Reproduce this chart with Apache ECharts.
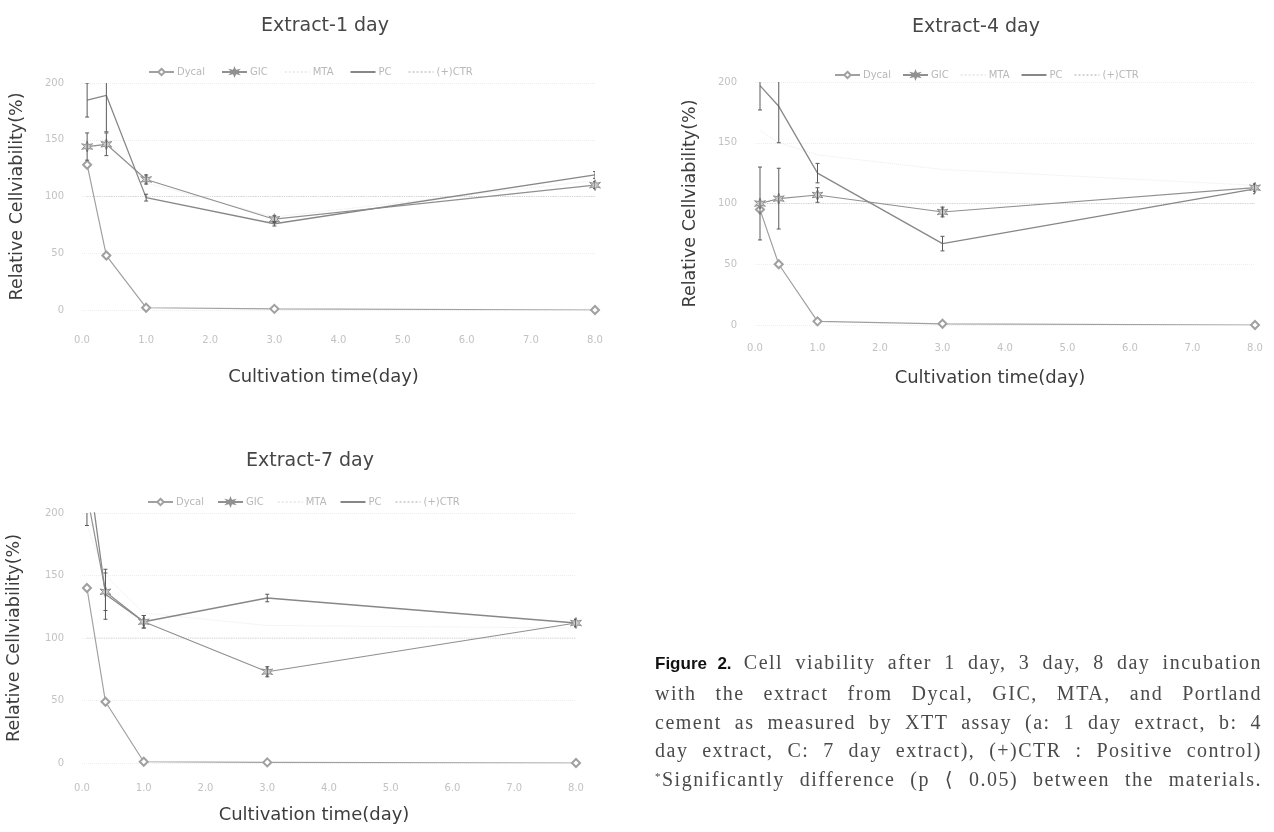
<!DOCTYPE html>
<html>
<head>
<meta charset="utf-8">
<script src="https://cdn.jsdelivr.net/npm/echarts/dist/echarts.min.js"></script>
<style>
  html, body { margin: 0; padding: 0; background: #ffffff; }
  #chart { position: absolute; left: 0; top: 0; width: 1274px; height: 832px; }
  #caption {
    position: absolute; left: 655px; top: 648px; width: 607px;
    font-family: "Liberation Serif", "DejaVu Serif", serif; font-size: 20px;
    letter-spacing: 1.5px; line-height: 28.8px; color: #4a4a4a;
  }
  #caption div { text-align: justify; text-align-last: justify; white-space: nowrap; }
  #caption b { font-family: "Liberation Sans", Arial, sans-serif; font-weight: bold; color: #111; font-size: 17px; letter-spacing: 0; }
  #caption sup { font-size: 11px; vertical-align: 6px; line-height: 0; }
</style>
</head>
<body>
<div id="chart"></div>
<div id="caption">
  <div><b>Figure 2.</b> Cell viability after 1 day, 3 day, 8 day incubation</div>
  <div>with the extract from Dycal, GIC, MTA, and Portland</div>
  <div>cement as measured by XTT assay (a: 1 day extract, b: 4</div>
  <div>day extract, C: 7 day extract), (+)CTR : Positive control)</div>
  <div><sup>*</sup>Significantly difference (p ⟨ 0.05) between the materials.</div>
</div>
<script>
// ---------------- DATA ----------------
const seriesNames = ['Dycal', 'GIC', 'MTA', 'PC', '(+)CTR'];
const panelTitles = ['Extract-1 day', 'Extract-4 day', 'Extract-7 day'];
const timeDays = [0.08, 0.38, 1, 3, 8];           // cultivation time (day)
const yTickValues = [0, 50, 100, 150, 200];

// Extract-1 day
const dycal1 = [128, 48, 2, 1, 0];
const gic1   = [144, 146, 115, 80, 110];
const mta1   = [140, 150, 112, 82, 114];
const pc1    = [185, 189, 99, 76, 119];
const ctr1   = [100, 100, 100, 100, 100];
const gicErr1 = [12, 10, 4, 3, 3];
const pcErr1  = [15, 32, 3, 2, 3];

// Extract-4 day
const dycal2 = [95, 50, 3, 1, 0];
const gic2   = [100, 104, 107, 93, 113];
const mta2   = [160, 150, 140, 128, 115];
const pc2    = [197, 180, 125, 67, 112];
const ctr2   = [100, 100, 100, 100, 100];
const gicErr2 = [30, 25, 6, 4, 3];
const pcErr2  = [20, 30, 8, 6, 4];

// Extract-7 day
const dycal3 = [140, 49, 1, 0.5, 0];
const gic3   = [215, 137, 113, 73, 112];
const mta3   = [190, 150, 120, 110, 108];
const pc3    = [245, 135, 113, 132, 112];
const ctr3   = [100, 100, 100, 100, 100];
const gicErr3 = [25, 15, 5, 4, 3];
const pcErr3  = [30, 20, 5, 3, 3];

const panelData = [
  [dycal1, gic1, mta1, pc1, ctr1],
  [dycal2, gic2, mta2, pc2, ctr2],
  [dycal3, gic3, mta3, pc3, ctr3]
];
const panelErrors = [
  [[gic1, gicErr1], [pc1, pcErr1]],
  [[gic2, gicErr2], [pc2, pcErr2]],
  [[gic3, gicErr3], [pc3, pcErr3]]
];

// ---------------- LAYOUT / STYLE ----------------
const grids = [
  { left: 82,  top: 83,  width: 513, height: 227 },
  { left: 755, top: 82,  width: 500, height: 243 },
  { left: 82,  top: 513, width: 494, height: 250 }
];
const titlePos = [ { x: 320, y: 12 }, { x: 971, y: 13 }, { x: 305, y: 447 } ];
const legendPos = [ { x: 143, y: 62, gap: 16 }, { x: 829, y: 65, gap: 11 }, { x: 142, y: 492, gap: 13 } ];
const xLabelMargin = [25, 18, 20];
const xNameGap = [58, 44, 43];
const yNameGap = [56, 56, 59];

const starPath = 'path://M0,-10 L2.2,-3.5 L8.7,-5 L4.2,0 L8.7,5 L2.2,3.5 L0,10 L-2.2,3.5 L-8.7,5 L-4.2,0 L-8.7,-5 L-2.2,-3.5 Z';
const seriesStyle = {
  'Dycal':  { color: '#a0a0a0', symbol: 'emptyDiamond', size: 8, type: 'solid', width: 1.2 },
  'GIC':    { color: '#909090', symbol: starPath, size: 11, type: 'solid', width: 1.2 },
  'MTA':    { color: '#ececec', symbol: 'none', size: 0, type: 'dotted', width: 1 },
  'PC':     { color: '#878787', symbol: 'none', size: 0, type: 'solid', width: 1.3 },
  '(+)CTR': { color: '#d4d4d4', symbol: 'none', size: 0, type: 'dotted', width: 1.2 }
};

const chartFont = '"DejaVu Sans", "Noto Sans", sans-serif';

const legendData = seriesNames.map(n => {
  const st = seriesStyle[n];
  if (st.symbol === 'none') return { name: n, itemStyle: { opacity: 0 } };
  return { name: n };
});

const option = {
  animation: false,
  backgroundColor: '#ffffff',
  title: panelTitles.map((t, i) => ({
    text: t, left: titlePos[i].x, top: titlePos[i].y, textAlign: 'center',
    textStyle: { fontFamily: chartFont, fontSize: 19, fontWeight: 'normal', color: '#474747' }
  })),
  legend: legendPos.map((p, i) => ({
    data: legendData, left: p.x, top: p.y, itemGap: p.gap,
    itemWidth: 25, itemHeight: 8,
    textStyle: { fontFamily: chartFont, fontSize: 10, color: '#b8b8b8', padding: [0, 0, 0, -2] }
  })),
  grid: grids.map(g => Object.assign({ containLabel: false }, g)),
  xAxis: grids.map((g, i) => ({
    type: 'value', gridIndex: i, min: 0, max: 8, interval: 1,
    name: 'Cultivation time(day)', nameLocation: 'middle', nameGap: xNameGap[i],
    nameTextStyle: { fontFamily: chartFont, fontSize: 18, color: '#3d3d3d', padding: [0, 30, 0, 0] },
    axisLine: { show: false }, axisTick: { show: false },
    splitLine: { show: false },
    axisLabel: { margin: xLabelMargin[i], fontFamily: chartFont, fontSize: 10, color: '#c2c2c2',
                 formatter: v => v.toFixed(1) }
  })),
  yAxis: grids.map((g, i) => ({
    type: 'value', gridIndex: i, min: 0, max: 200, interval: 50,
    name: 'Relative Cellviability(%)', nameLocation: 'middle', nameGap: yNameGap[i],
    nameTextStyle: { fontFamily: chartFont, fontSize: 17.5, color: '#3d3d3d' },
    axisLine: { show: false }, axisTick: { show: false },
    splitLine: { show: true, lineStyle: { type: 'dotted', color: '#eeeeee', width: 1 } },
    axisLabel: { margin: 18, fontFamily: chartFont, fontSize: 10, color: '#c2c2c2',
                 formatter: v => (yTickValues.indexOf(v) >= 0 ? String(v) : '') }
  })),
  series: []
};

panelData.forEach((arrs, pi) => {
  arrs.forEach((vals, si) => {
    const name = seriesNames[si];
    const st = seriesStyle[name];
    option.series.push({
      type: 'line', name: name, xAxisIndex: pi, yAxisIndex: pi,
      data: timeDays.map((t, k) => [t, vals[k]]),
      clip: true,
      symbol: st.symbol, symbolSize: st.size, showSymbol: st.symbol !== 'none',
      lineStyle: { color: st.color, width: st.width, type: st.type },
      itemStyle: name === 'GIC'
        ? { color: '#cacaca', borderColor: st.color, borderWidth: 1 }
        : { color: st.color, borderColor: st.color, borderWidth: 1.2 },
      z: name === 'MTA' || name === '(+)CTR' ? 1 : 3
    });
  });
  // error bars
  panelErrors[pi].forEach(([vals, errs]) => {
    option.series.push({
      type: 'custom', xAxisIndex: pi, yAxisIndex: pi, clip: true, silent: true, z: 4,
      data: timeDays.map((t, k) => [t, vals[k] - errs[k], vals[k] + errs[k]]),
      renderItem: (params, api) => {
        const lo = api.coord([api.value(0), api.value(1)]);
        const hi = api.coord([api.value(0), api.value(2)]);
        const cap = 2;
        return {
          type: 'group',
          children: [
            { type: 'line', shape: { x1: lo[0], y1: lo[1], x2: hi[0], y2: hi[1] }, style: { stroke: '#5a5a5a', lineWidth: 1 } },
            { type: 'line', shape: { x1: lo[0] - cap, y1: lo[1], x2: lo[0] + cap, y2: lo[1] }, style: { stroke: '#5a5a5a', lineWidth: 1 } },
            { type: 'line', shape: { x1: hi[0] - cap, y1: hi[1], x2: hi[0] + cap, y2: hi[1] }, style: { stroke: '#5a5a5a', lineWidth: 1 } }
          ]
        };
      }
    });
  });
});

const chart = echarts.init(document.getElementById('chart'), null, { renderer: 'canvas' });
chart.setOption(option);
</script>
</body>
</html>
